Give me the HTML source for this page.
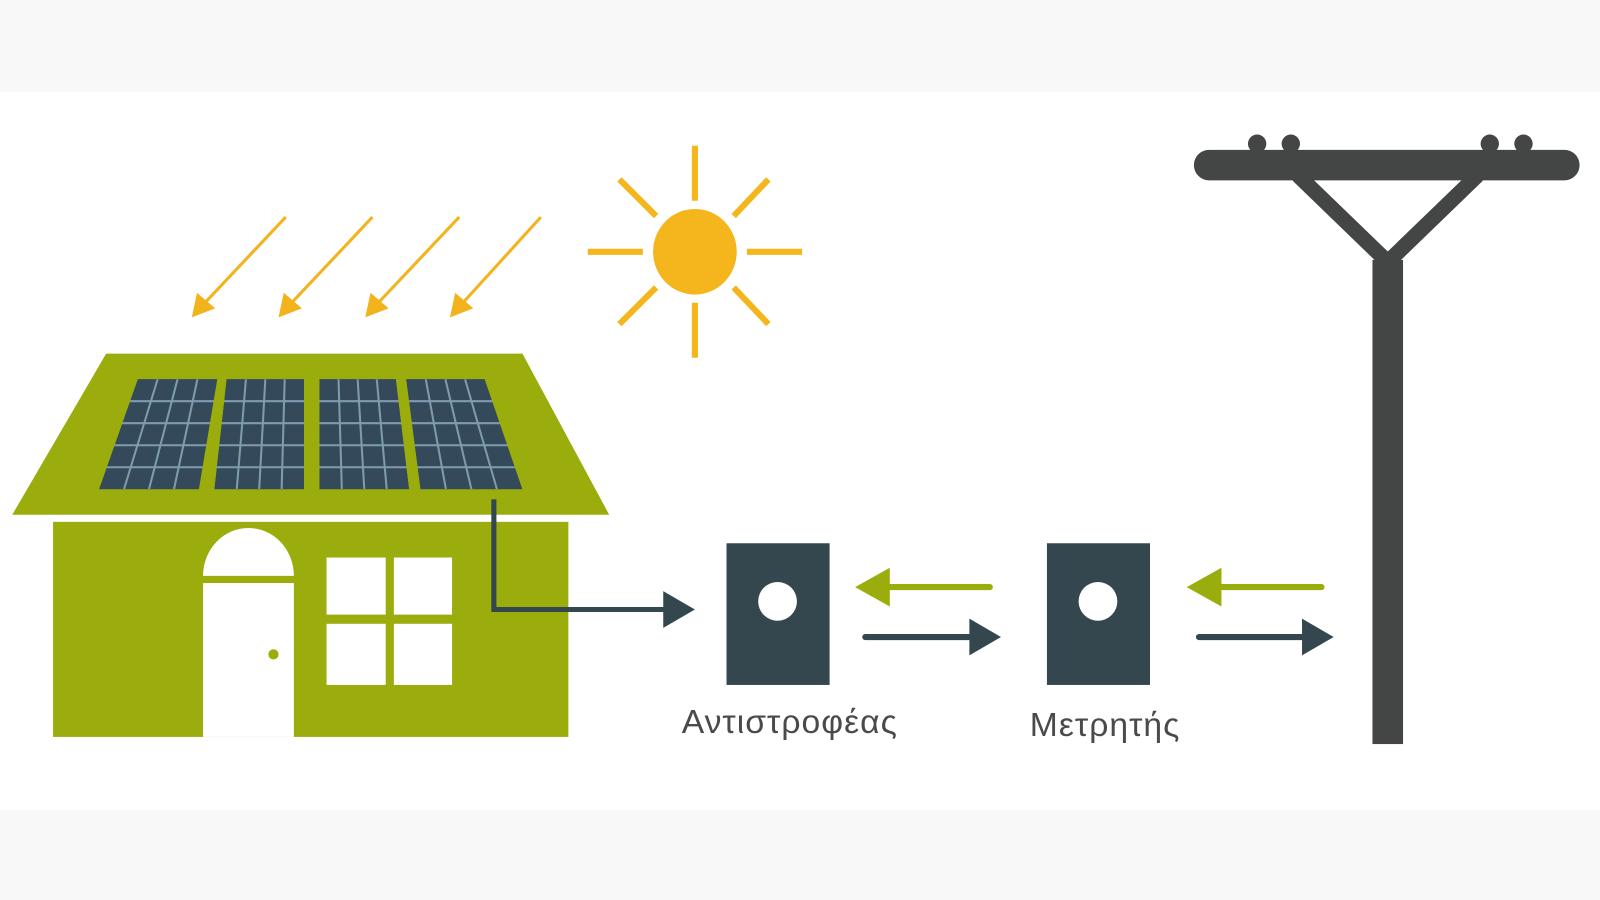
<!DOCTYPE html>
<html><head><meta charset="utf-8"><style>
html,body{margin:0;padding:0;width:1600px;height:900px;overflow:hidden;background:#fff}
svg{display:block}
</style></head><body>
<svg width="1600" height="900" viewBox="0 0 1568 883" preserveAspectRatio="none" xmlns="http://www.w3.org/2000/svg">
<rect x="0" y="0" width="1568" height="883" fill="#f8f8f8"/>
<rect x="0" y="90" width="1568" height="705" fill="#ffffff"/>
<defs>
<clipPath id="p1"><polygon points="135,372 213,372 195,480 97,480"/></clipPath>
<clipPath id="p2"><polygon points="222,372 298,372 298,480 210,480"/></clipPath>
<clipPath id="p3"><polygon points="313,372 388,372 401,480 313,480"/></clipPath>
<clipPath id="p4"><polygon points="398,372 475,372 512,480 412,480"/></clipPath>
</defs>
<g stroke="#f2b31c" stroke-width="3" fill="#f2b31c">
<line x1="280" y1="213" x2="198" y2="300"/><polygon points="190,309 194,290 208,302"/>
<line x1="365" y1="213" x2="283" y2="300"/><polygon points="275,309 279,290 293,302"/>
<line x1="450" y1="213" x2="368" y2="300"/><polygon points="360,309 364,290 378,302"/>
<line x1="530" y1="213" x2="451" y2="300"/><polygon points="443,309 447,290 461,302"/>
</g>
<g stroke="#f5b51c" stroke-width="6">
<line x1="681" y1="143" x2="681" y2="197"/><line x1="681" y1="297" x2="681" y2="351"/>
<line x1="576" y1="247" x2="630" y2="247"/><line x1="732" y1="247" x2="786" y2="247"/>
<line x1="607" y1="176" x2="643" y2="212"/><line x1="719" y1="282" x2="753" y2="318"/>
<line x1="753" y1="176" x2="719" y2="212"/><line x1="643" y1="282" x2="607" y2="318"/>
</g>
<ellipse cx="681" cy="247" rx="41" ry="42" fill="#f5b51c"/>
<polygon points="104,347 512,347 597,505 12,505" fill="#9aad0c"/>
<rect x="52" y="512" width="505" height="211" fill="#9aad0c"/>
<g fill="#344a5a">
<polygon points="135,372 213,372 195,480 97,480"/>
<polygon points="222,372 298,372 298,480 210,480"/>
<polygon points="313,372 388,372 401,480 313,480"/>
<polygon points="398,372 475,372 512,480 412,480"/>
</g>
<g stroke="#7f9bb0" stroke-width="2">
<g clip-path="url(#p1)"><line x1="154.5" y1="372" x2="121.5" y2="480"/><line x1="174" y1="372" x2="146" y2="480"/><line x1="193.5" y1="372" x2="170.5" y2="480"/></g>
<g clip-path="url(#p2)"><line x1="241" y1="372" x2="232" y2="480"/><line x1="260" y1="372" x2="254" y2="480"/><line x1="279" y1="372" x2="276" y2="480"/></g>
<g clip-path="url(#p3)"><line x1="331.75" y1="372" x2="335" y2="480"/><line x1="350.5" y1="372" x2="357" y2="480"/><line x1="369.25" y1="372" x2="379" y2="480"/></g>
<g clip-path="url(#p4)"><line x1="417.25" y1="372" x2="437" y2="480"/><line x1="436.5" y1="372" x2="462" y2="480"/><line x1="455.75" y1="372" x2="487" y2="480"/></g>
<line x1="90" y1="393.6" x2="520" y2="393.6"/><line x1="90" y1="415.2" x2="520" y2="415.2"/>
<line x1="90" y1="436.8" x2="520" y2="436.8"/><line x1="90" y1="458.4" x2="520" y2="458.4"/>
</g>
<g fill="#9aad0c">
<polygon points="213,372 222,372 210,480 195,480"/>
<polygon points="298,372 313,372 313,480 298,480"/>
<polygon points="388,372 398,372 412,480 401,480"/>
<polygon points="90,372 135,372 97,480 90,480"/>
<polygon points="475,372 520,372 520,480 512,480"/>
</g>
<path d="M199,565 A44.5,47 0 0 1 288,565 Z" fill="#fff"/>
<rect x="199" y="572" width="89" height="151" fill="#fff"/>
<circle cx="268" cy="642" r="5" fill="#9aad0c"/>
<g fill="#fff">
<rect x="320" y="547" width="58" height="56"/><rect x="386" y="547" width="57" height="56"/>
<rect x="320" y="612" width="58" height="60"/><rect x="386" y="612" width="57" height="60"/>
</g>
<polyline points="484,490 484,598 656,598" fill="none" stroke="#34474f" stroke-width="5"/>
<polygon points="650,580 681,598 650,616" fill="#34474f"/>
<rect x="712" y="533" width="101" height="139" fill="#34474f"/>
<circle cx="762" cy="590" r="19" fill="#fff"/>
<rect x="1026" y="533" width="101" height="139" fill="#34474f"/>
<circle cx="1076" cy="590" r="19" fill="#fff"/>
<g stroke-width="6" stroke-linecap="round">
<line x1="970" y1="576" x2="865" y2="576" stroke="#9aad0c"/>
<line x1="848" y1="625" x2="960" y2="625" stroke="#34474f"/>
<line x1="1295" y1="576" x2="1190" y2="576" stroke="#9aad0c"/>
<line x1="1175" y1="625" x2="1285" y2="625" stroke="#34474f"/>
</g>
<polygon points="838,576 872,557 872,595" fill="#9aad0c"/>
<polygon points="981,625 950,607 950,643" fill="#34474f"/>
<polygon points="1163,576 1197,557 1197,595" fill="#9aad0c"/>
<polygon points="1307,625 1276,607 1276,643" fill="#34474f"/>
<g font-family="'Liberation Sans','DejaVu Sans',sans-serif" font-size="33" fill="#4a4a4a" text-anchor="middle" letter-spacing="1">
<text x="774" y="719">Αντιστροφέας</text>
<text x="1083" y="722">Μετρητής</text>
</g>
<g fill="#434645">
<circle cx="1232" cy="141" r="9"/><circle cx="1265" cy="141" r="9"/>
<circle cx="1460" cy="141" r="9"/><circle cx="1493" cy="141" r="9"/>
<rect x="1170" y="147" width="378" height="30" rx="15"/>
<rect x="1345" y="255" width="30" height="475"/>
</g>
<g stroke="#434645" stroke-width="15">
<line x1="1272" y1="172" x2="1365" y2="262"/>
<line x1="1448" y1="172" x2="1355" y2="262"/>
</g>
</svg>
</body></html>
